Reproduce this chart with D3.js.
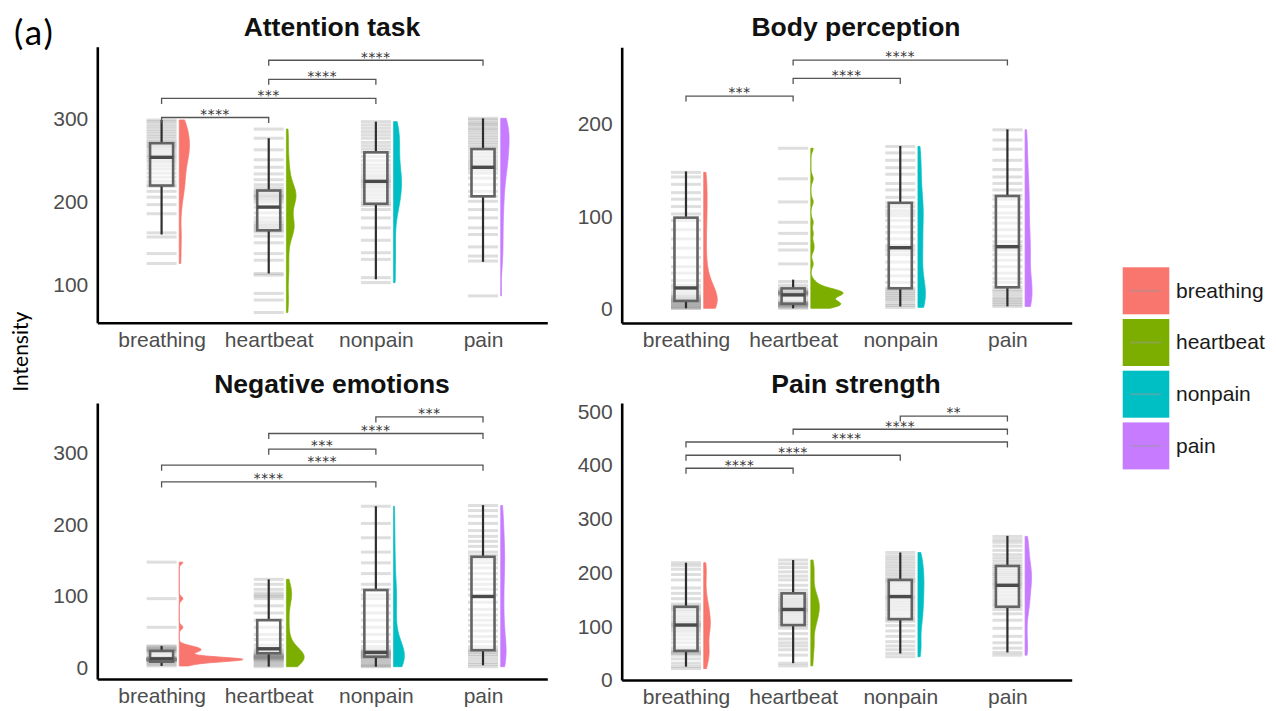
<!DOCTYPE html>
<html>
<head>
<meta charset="utf-8">
<script src="https://cdn.jsdelivr.net/npm/d3@7"></script>
<style>
  body { margin: 0; background: #fff; }
  svg { display: block; }
</style>
</head>
<body>
<svg id="chart" width="1276" height="711"></svg>
<script>
// ---- data ---------------------------------------------------------------
const categories = ["breathing", "heartbeat", "nonpain", "pain"];
const colors = ["#F8766D", "#7CAE00", "#00BFC4", "#C77CFF"];
const panelTitles = ["Attention task", "Body perception", "Negative emotions", "Pain strength"];
const yTicks = [[100, 200, 300], [0, 100, 200], [0, 100, 200, 300], [0, 100, 200, 300, 400, 500]];
const yDomains = [[53.7, 386.3], [-15.9, 282.2], [-17.2, 368.2], [-1.3, 514.3]];

// individual ratings (one per participant), per condition
const attentionValues = [
  [125, 137, 157, 162, 185, 196, 205, 212, 218, 220, 224, 229, 234, 239, 243, 247, 250, 253, 255, 258, 261, 264, 266, 268, 270, 272, 275, 278, 281, 284, 287, 290, 293, 296, 298],
  [66, 81, 89, 111, 113, 129, 137, 150, 158, 163, 165, 167, 169, 171, 173, 176, 180, 186, 193, 198, 201, 203, 205, 206, 207, 209, 211, 213, 216, 220, 226, 233, 241, 250, 262, 276, 287],
  [102, 108, 130, 138, 153, 168, 180, 190, 195, 197, 200, 204, 208, 212, 216, 219, 222, 224, 226, 229, 232, 236, 240, 244, 249, 254, 259, 263, 267, 271, 276, 280, 284, 288, 292, 296],
  [86, 128, 134, 145, 160, 168, 180, 190, 200, 206, 212, 220, 228, 234, 238, 241, 244, 247, 250, 254, 258, 262, 265, 268, 271, 274, 277, 280, 283, 286, 288, 291, 293, 295, 298, 300]
];
const bodyValues = [
  [0, 0, 1, 2, 3, 4, 5, 6, 7, 8, 8, 9, 10, 11, 12, 13, 15, 18, 22, 25, 30, 38, 45, 55, 65, 75, 85, 95, 102, 110, 118, 125, 134, 142, 147],
  [0, 1, 2, 3, 3, 4, 4, 5, 5, 5, 6, 6, 7, 9, 12, 14, 15, 15, 16, 16, 16, 17, 17, 17, 18, 18, 19, 20, 22, 25, 29, 48, 63, 70, 81, 93, 115, 140, 173],
  [1, 3, 5, 8, 10, 12, 14, 16, 18, 20, 22, 28, 35, 42, 50, 58, 62, 65, 68, 75, 82, 88, 95, 100, 103, 106, 110, 114, 120, 128, 135, 145, 152, 160, 168, 175],
  [2, 4, 6, 8, 10, 12, 15, 18, 20, 23, 28, 32, 38, 45, 52, 58, 63, 66, 68, 72, 78, 85, 92, 98, 103, 110, 118, 122, 128, 135, 142, 150, 160, 172, 182, 193]
];
const emotionValues = [
  [1, 3, 5, 7, 8, 9, 9, 9, 9, 10, 10, 10, 10, 10, 10, 11, 11, 11, 11, 12, 12, 13, 16, 19, 21, 22, 23, 24, 25, 26, 28, 29, 55, 95, 146],
  [0, 2, 4, 6, 8, 9, 10, 11, 12, 12, 13, 13, 14, 14, 15, 15, 16, 17, 18, 20, 22, 25, 30, 38, 45, 55, 65, 75, 85, 95, 98, 100, 103, 108, 115, 122],
  [0, 1, 2, 4, 6, 8, 10, 12, 13, 14, 15, 16, 17, 18, 19, 20, 21, 22, 24, 28, 35, 45, 55, 65, 75, 85, 95, 100, 108, 115, 130, 145, 160, 180, 200, 224],
  [0, 3, 6, 10, 14, 17, 20, 22, 24, 28, 35, 42, 50, 58, 65, 72, 80, 90, 100, 108, 115, 122, 130, 138, 145, 150, 155, 160, 168, 175, 182, 190, 200, 210, 218, 225]
];
const strengthValues = [
  [20, 24, 30, 38, 45, 48, 50, 52, 55, 60, 68, 75, 82, 88, 92, 96, 99, 101, 103, 106, 110, 115, 120, 126, 130, 133, 136, 140, 150, 160, 170, 185, 195, 205, 212, 217],
  [25, 30, 45, 55, 62, 68, 75, 85, 95, 100, 104, 108, 112, 116, 120, 124, 127, 129, 131, 134, 137, 140, 143, 146, 149, 152, 156, 160, 166, 175, 185, 192, 200, 208, 215, 222],
  [42, 48, 55, 62, 70, 80, 90, 100, 108, 112, 116, 122, 128, 133, 138, 143, 148, 152, 155, 160, 165, 170, 175, 180, 183, 186, 190, 195, 200, 205, 210, 215, 220, 225, 230, 236],
  [45, 50, 58, 68, 80, 95, 110, 122, 130, 136, 140, 145, 150, 156, 162, 168, 172, 176, 179, 183, 187, 191, 195, 198, 202, 206, 210, 214, 220, 226, 232, 240, 248, 255, 260, 266]
];

// box summaries: [lower whisker, Q1, median, Q3, upper whisker]
const attentionBoxes = [[160, 219, 253, 270, 298], [113, 165, 193, 213, 276], [106, 197, 224, 259, 296], [127, 206, 241, 263, 300]];
const bodyBoxes = [[0, 8, 22, 98, 148], [0, 5, 14.5, 21.5, 31], [2, 21.6, 65.5, 114, 175.5], [2, 22.7, 66.6, 121.4, 193.5]];
const emotionBoxes = [[1, 7, 11, 22, 29], [0, 18.7, 25, 65, 122], [0, 14, 20, 107, 224], [2, 23, 98, 153.5, 225.6]];
const strengthBoxes = [[23.5, 53, 101, 135, 217], [30, 101, 130, 160, 222], [48, 112, 154, 185, 236], [50, 135, 175, 211, 267]];

// pairwise comparisons: [from, to, bracket height, significance]
const attentionSignif = [[0, 1, 301, "****"], [0, 2, 324, "***"], [1, 2, 347, "****"], [1, 3, 370, "****"]];
const bodySignif = [[0, 1, 229.5, "***"], [1, 2, 248.6, "****"], [1, 3, 268.4, "****"]];
const emotionSignif = [[0, 2, 258, "****"], [0, 3, 281.4, "****"], [1, 2, 303.7, "***"], [1, 3, 325.6, "****"], [2, 3, 348.8, "***"]];
const strengthSignif = [[0, 1, 392.8, "****"], [0, 2, 417, "****"], [0, 3, 441.7, "****"], [1, 3, 465.4, "****"], [2, 3, 490, "**"]];

const panelValues = [attentionValues, bodyValues, emotionValues, strengthValues];
const panelBoxes = [attentionBoxes, bodyBoxes, emotionBoxes, strengthBoxes];
const panelSignif = [attentionSignif, bodySignif, emotionSignif, strengthSignif];

// ---- layout -------------------------------------------------------------
const frames = [
  { left: 97.3, right: 547.3, top: 46.7, bottom: 322.7, titleX: 332, titleY: 36 },
  { left: 621.7, right: 1071.7, top: 47.3, bottom: 323, titleX: 856, titleY: 36 },
  { left: 97.3, right: 547.3, top: 403, bottom: 679, titleX: 332, titleY: 393.3 },
  { left: 621.7, right: 1071.7, top: 403, bottom: 680, titleX: 856, titleY: 393.3 }
];
const AXIS_FONT = "'Liberation Sans', Arial, sans-serif";
const VIOLIN_SCALE = 950;  // px of width per unit of density (per rating unit)
const BW_ADJUST = 0.7;     // bandwidth multiplier for the kernel density

const svg = d3.select("#chart");

// Gaussian kernel density with Silverman's rule-of-thumb bandwidth (nrd0)
function density(values) {
  const s = values.slice().sort(d3.ascending);
  const n = s.length;
  const sd = d3.deviation(s);
  const iqr = d3.quantile(s, 0.75) - d3.quantile(s, 0.25);
  let lo = Math.min(sd, iqr / 1.34);
  if (!(lo > 0)) lo = sd || 1;
  const bw = BW_ADJUST * 0.9 * lo * Math.pow(n, -0.2);
  const a = s[0], b = s[n - 1];
  const k = 1 / (n * bw * Math.sqrt(2 * Math.PI));
  return d3.range(0, 301).map(i => {
    const v = a + (b - a) * i / 300;
    return [v, k * d3.sum(s, x => Math.exp(-0.5 * ((v - x) / bw) ** 2))];
  });
}

frames.forEach((f, p) => {
  const g = svg.append("g");
  const x = d3.scalePoint().domain(categories).range([f.left, f.right]).padding(0.6);
  const y = d3.scaleLinear().domain(yDomains[p]).range([f.bottom, f.top]);
  const step = x.step();

  const rainHalf = 0.14 * step, boxHalf = 0.1075 * step, violinOff = 0.165 * step;

  categories.forEach((c, i) => {
    const cx = x(c);
    const vals = panelValues[p][i];
    const box = panelBoxes[p][i];

    // rain: one translucent dash per observation
    g.append("g").selectAll("line").data(vals).join("line")
      .attr("x1", cx - rainHalf).attr("x2", cx + rainHalf)
      .attr("y1", d => y(d)).attr("y2", d => y(d))
      .attr("stroke", "#7f7f7f").attr("stroke-opacity", 0.26).attr("stroke-width", 3);

    // half violin on the right
    const dens = density(vals);
    const area = d3.area()
      .x0(cx + violinOff)
      .x1(d => cx + violinOff + d[1] * VIOLIN_SCALE)
      .y(d => y(d[0]));
    g.append("path").attr("d", area(dens))
      .attr("fill", colors[i]).attr("stroke", colors[i]).attr("stroke-width", 0.8);

    // whiskers
    g.append("line").attr("x1", cx).attr("x2", cx).attr("y1", y(box[4])).attr("y2", y(box[3]))
      .attr("stroke", "#2e2e2e").attr("stroke-width", 2.2);
    g.append("line").attr("x1", cx).attr("x2", cx).attr("y1", y(box[1])).attr("y2", y(box[0]))
      .attr("stroke", "#2e2e2e").attr("stroke-width", 2.2);
    // box
    g.append("rect")
      .attr("x", cx - boxHalf).attr("width", 2 * boxHalf)
      .attr("y", y(box[3])).attr("height", y(box[1]) - y(box[3]))
      .attr("fill", "#fff").attr("fill-opacity", 0.55)
      .attr("stroke", "#646464").attr("stroke-width", 2.6);
    g.append("line").attr("x1", cx - boxHalf).attr("x2", cx + boxHalf)
      .attr("y1", y(box[2])).attr("y2", y(box[2]))
      .attr("stroke", "#4a4a4a").attr("stroke-width", 3.4);
  });

  // significance brackets
  const tip = 5.5;
  panelSignif[p].forEach(([a, b, h, lab]) => {
    const xa = x(categories[a]), xb = x(categories[b]), yy = y(h);
    g.append("path")
      .attr("d", `M${xa},${yy + tip}V${yy}H${xb}V${yy + tip}`)
      .attr("fill", "none").attr("stroke", "#555").attr("stroke-width", 1.3);
    g.append("text").attr("x", (xa + xb) / 2).attr("y", yy + 1.3)
      .attr("text-anchor", "middle").attr("font-family", "'DejaVu Sans', sans-serif")
      .attr("font-size", 13.5).attr("letter-spacing", 0.7).attr("fill", "#333").text(lab);
  });

  // axes
  const yAxis = g.append("g").attr("transform", `translate(${f.left},0)`)
    .call(d3.axisLeft(y).tickValues(yTicks[p]).tickSize(0).tickSizeOuter(0).tickPadding(9));
  const xAxis = g.append("g").attr("transform", `translate(0,${f.bottom})`)
    .call(d3.axisBottom(x).tickSize(0).tickSizeOuter(0).tickPadding(9));
  [yAxis, xAxis].forEach(ax => {
    ax.select(".domain").attr("stroke", "#000").attr("stroke-width", 2.6);
    ax.selectAll("text").attr("font-family", AXIS_FONT).attr("font-size", 21).attr("fill", "#4d4d4d");
  });
  yAxis.selectAll("text").attr("dy", "0.36em");
  xAxis.selectAll("text").attr("dy", null).attr("y", 24);

  g.append("text").attr("x", f.titleX).attr("y", f.titleY)
    .attr("text-anchor", "middle").attr("font-family", AXIS_FONT)
    .attr("font-weight", "bold").attr("font-size", 26.5).attr("fill", "#111")
    .text(panelTitles[p]);
});

// legend
const legend = svg.append("g");
categories.forEach((c, i) => {
  const top = 267.3 + i * 51.7;
  legend.append("rect").attr("x", 1122.7).attr("y", top).attr("width", 46.6).attr("height", 47)
    .attr("fill", colors[i]);
  legend.append("line").attr("x1", 1130).attr("x2", 1161).attr("y1", top + 23.5).attr("y2", top + 23.5)
    .attr("stroke", "#9a9a9a").attr("stroke-opacity", 0.45).attr("stroke-width", 2);
  legend.append("text").attr("x", 1176).attr("y", top + 23.5).attr("dy", "0.32em")
    .attr("font-family", AXIS_FONT).attr("font-size", 21).attr("fill", "#1a1a1a").text(c);
});

// shared y label and figure tag
svg.append("text").attr("transform", "translate(28.3,351.7) rotate(-90)")
  .attr("text-anchor", "middle").attr("font-family", "Lato, 'Open Sans', sans-serif")
  .attr("font-size", 21).attr("fill", "#000").text("Intensity");
svg.append("text").attr("x", 14).attr("y", 45)
  .attr("font-family", "Lato, 'Open Sans', sans-serif").attr("font-size", 35)
  .attr("letter-spacing", 2).attr("fill", "#000").text("(a)");
</script>
</body>
</html>
